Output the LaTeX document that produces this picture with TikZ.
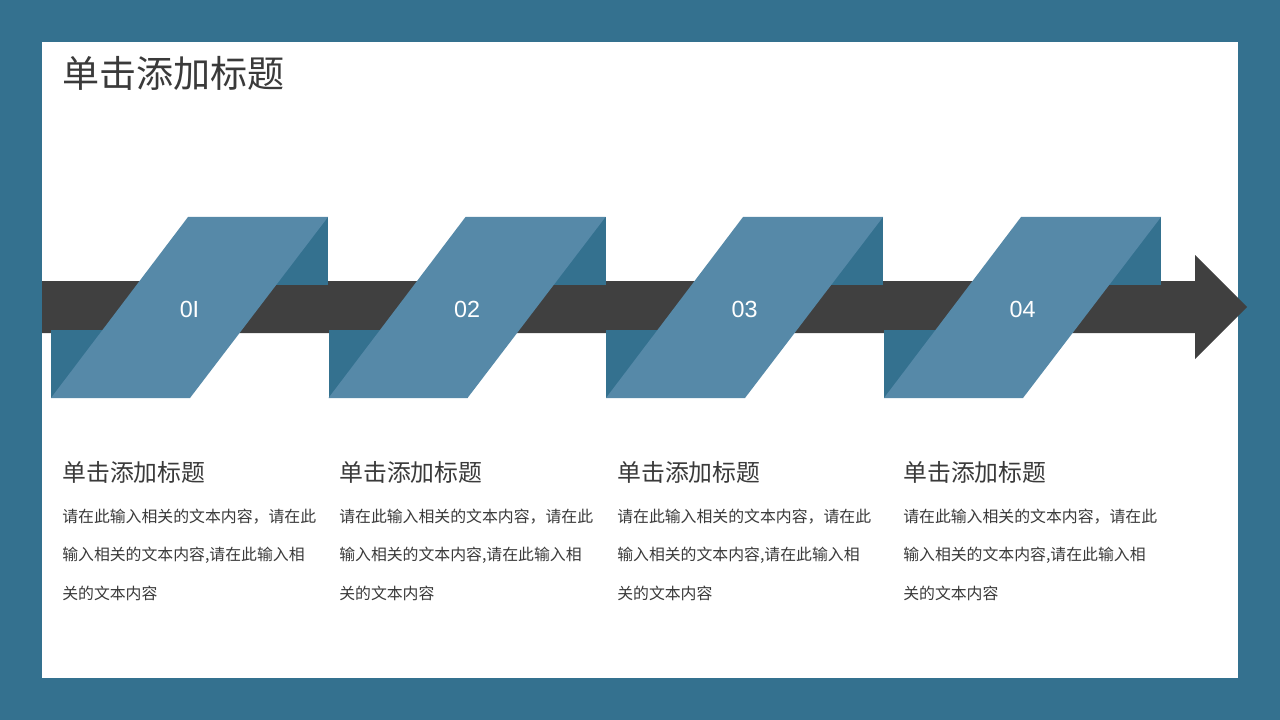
\documentclass[tikz,border=0pt]{standalone}
\usepackage{fontspec}
\setmainfont{Liberation Sans}
\newfontfamily\cjk{Noto Sans CJK SC}
\definecolor{frameblue}{RGB}{52,113,143}
\definecolor{lightblue}{RGB}{86,137,168}
\definecolor{arrowgray}{RGB}{64,64,64}
\definecolor{textgray}{RGB}{58,58,58}

\begin{document}
\begin{tikzpicture}[x=0.75pt,y=0.75pt,yscale=-1,xscale=1,
    darkbox/.style={fill=frameblue,draw=none},
    ribbon/.style={fill=lightblue,draw=none},
    numtext/.style={inner sep=0pt,text=white,font=\fontsize{17.5}{20}\selectfont},
    headtext/.style={anchor=west,inner sep=0pt,text=textgray,font=\cjk\fontsize{17.9}{20}\selectfont},
    bodytext/.style={anchor=north west,inner sep=0pt,align=left,text=textgray,font=\cjk\fontsize{11.9}{28.9}\selectfont}]
    \useasboundingbox (0,0) rectangle (1280,720);

    %Shape: Frame
    \fill [frameblue] (0,0) rectangle (1280,720);
    \fill [white] (42,42) rectangle (1238,678);
    %Shape: Arrow
    \fill [arrowgray] (42,281) -- (1195,281) -- (1195,255) -- (1247,307) -- (1195,359) -- (1195,333) -- (42,333) -- cycle;

    %Shape: Step 1
    \fill [darkbox] (188,217) rectangle (328,285);
    \fill [darkbox] (51,330) rectangle (190,398);
    \fill [ribbon] (51,398) -- (188,217) -- (328,217) -- (190,398) -- cycle;
    %Shape: Step 2
    \fill [darkbox] (465.5,217) rectangle (605.5,285);
    \fill [darkbox] (328.5,330) rectangle (467.5,398);
    \fill [ribbon] (328.5,398) -- (465.5,217) -- (605.5,217) -- (467.5,398) -- cycle;
    %Shape: Step 3
    \fill [darkbox] (743,217) rectangle (883,285);
    \fill [darkbox] (606,330) rectangle (745,398);
    \fill [ribbon] (606,398) -- (743,217) -- (883,217) -- (745,398) -- cycle;
    %Shape: Step 4
    \fill [darkbox] (1021,217) rectangle (1161,285);
    \fill [darkbox] (884,330) rectangle (1023,398);
    \fill [ribbon] (884,398) -- (1021,217) -- (1161,217) -- (1023,398) -- cycle;

    % Text Node
    \node (title) [anchor=west,inner sep=0pt,text=textgray,font=\cjk\fontsize{27.8}{30}\selectfont] at (62,73) {单击添加标题};
    % Text Node
    \node (num1) [numtext] at (189.5,309) {0I};
    \node (num2) [numtext] at (467,309) {02};
    \node (num3) [numtext] at (744.5,309) {03};
    \node (num4) [numtext] at (1022.5,309) {04};
    % Text Node
    \node (head1) [headtext] at (62,472) {单击添加标题};
    \node (head2) [headtext] at (339,472) {单击添加标题};
    \node (head3) [headtext] at (617,472) {单击添加标题};
    \node (head4) [headtext] at (903,472) {单击添加标题};
    % Text Node
    \node (body1) [bodytext] at (62,508.5) {请在此输入相关的文本内容，请在此\\输入相关的文本内容,请在此输入相\\关的文本内容};
    \node (body2) [bodytext] at (339,508.5) {请在此输入相关的文本内容，请在此\\输入相关的文本内容,请在此输入相\\关的文本内容};
    \node (body3) [bodytext] at (617,508.5) {请在此输入相关的文本内容，请在此\\输入相关的文本内容,请在此输入相\\关的文本内容};
    \node (body4) [bodytext] at (903,508.5) {请在此输入相关的文本内容，请在此\\输入相关的文本内容,请在此输入相\\关的文本内容};

\end{tikzpicture}
\end{document}
